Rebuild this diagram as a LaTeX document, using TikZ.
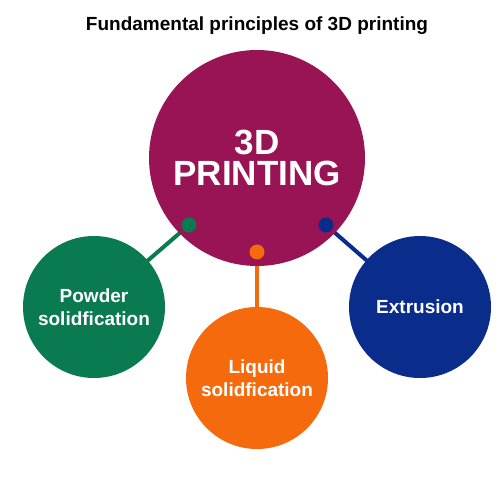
\documentclass[tikz,border=0pt]{standalone}
\usepackage{fontspec}
\setmainfont{Liberation Sans}
\usetikzlibrary{backgrounds}
\definecolor{cmain}{RGB}{152,20,84}
\definecolor{cgreen}{RGB}{10,122,80}
\definecolor{corange}{RGB}{246,106,14}
\definecolor{cblue}{RGB}{10,45,140}
\begin{document}
\begin{tikzpicture}[x=1pt,y=-1pt,
  bubble/.style={circle,inner sep=0pt,minimum size=142pt,text=white,align=center,
    font=\bfseries\fontsize{19}{23}\selectfont},
  dotm/.style={circle,inner sep=0pt,minimum size=15pt},
  link/.style={line width=4pt}]
\useasboundingbox (0,0) rectangle (500,478);
\node[font=\bfseries\fontsize{19}{22}\selectfont] (title) at (257,26) {Fundamental principles of 3D printing};
\node[circle,fill=cmain,inner sep=0pt,minimum size=216pt,text=white,align=center,
  font=\bfseries\fontsize{35}{31}\selectfont] (main) at (257,158) {3D\\PRINTING};
\node[bubble,fill=cgreen] (powder) at (94,307) {Powder\\solidfication};
\node[bubble,fill=corange] (liquid) at (257,378) {Liquid\\solidfication};
\node[bubble,fill=cblue] (extr) at (420,307) {Extrusion};
\node[dotm,fill=cgreen] (dg) at (189,225) {};
\node[dotm,fill=corange] (do) at (257,252) {};
\node[dotm,fill=cblue] (db) at (326,225) {};
\begin{scope}[on background layer]
\draw[link,cgreen] (dg.center) -- (powder.center);
\draw[link,corange] (do.center) -- (liquid.center);
\draw[link,cblue] (db.center) -- (extr.center);
\end{scope}
\end{tikzpicture}
\end{document}
